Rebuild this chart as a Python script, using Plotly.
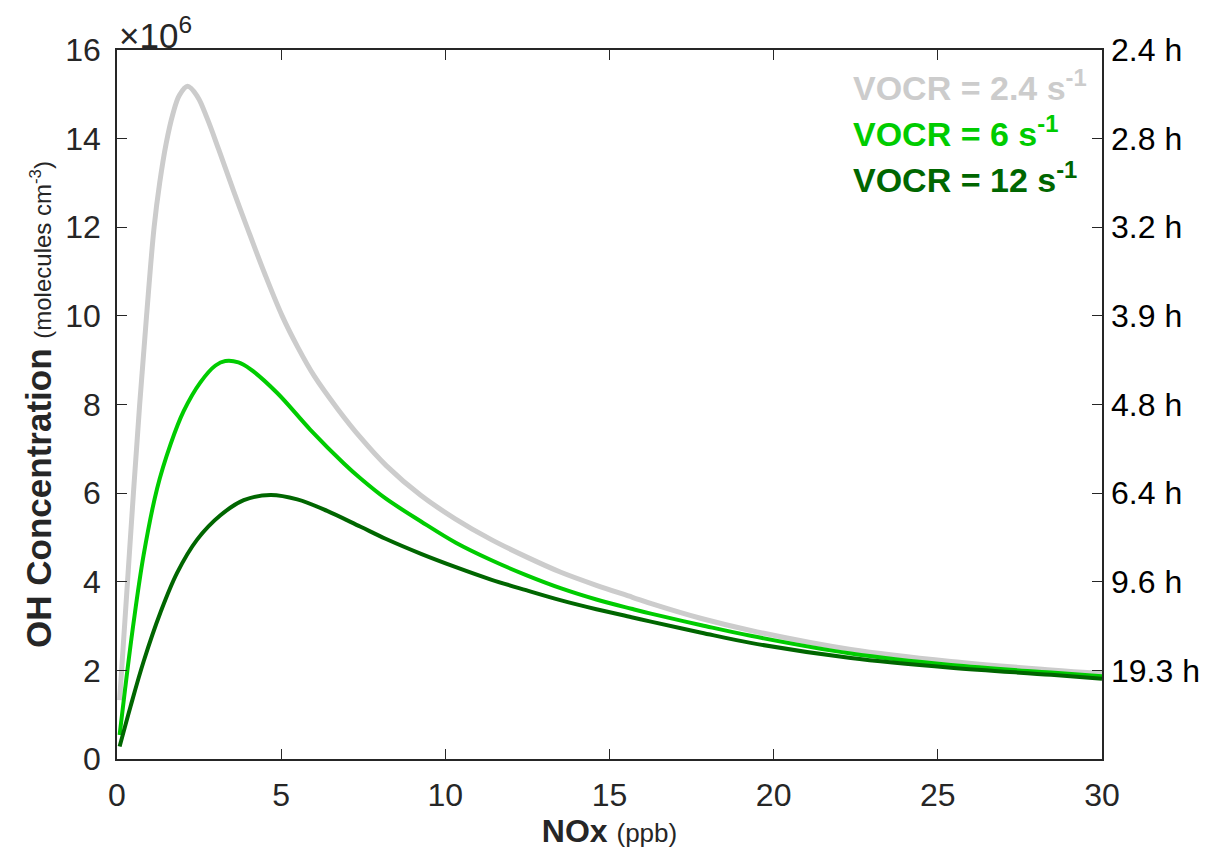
import plotly.graph_objects as go

# NOx (ppb) and OH (x 10^6 molecules cm^-3)
nox_low = [0.08, 0.14, 0.32, 0.5, 0.69, 0.9, 1.13, 1.3, 1.5, 1.7, 1.9, 2.15, 2.45, 2.75,
           3.1, 3.56, 3.96, 4.5, 5.03, 5.5, 6.0, 6.72, 7.42, 8.2, 9.25, 10.3, 11.4, 12.5,
           13.5, 14.6, 15.7, 16.3, 17.8, 19.3, 22.35, 25.4, 28.45, 30]
oh_low = [1.33, 2.0, 4.0, 6.0, 8.0, 10.0, 12.0, 13.0, 13.9, 14.55, 14.98, 15.18, 14.95, 14.45,
          13.75, 12.8, 12.0, 10.95, 10.0, 9.3, 8.65, 7.9, 7.25, 6.62, 5.95, 5.42, 4.95, 4.55,
          4.22, 3.92, 3.65, 3.5, 3.17, 2.9, 2.47, 2.2, 2.01, 1.93]

nox_mid = [0.08, 0.25, 0.5, 0.81, 1.22, 1.63, 2.03, 2.54, 3.0, 3.3, 3.7, 4.06, 4.88, 5.89,
           6.91, 7.42, 8.18, 9.26, 10.32, 11.39, 12.46, 13.53, 14.6, 15.67, 16.26, 17.8,
           19.3, 22.35, 25.4, 28.45, 30]
oh_mid = [0.54, 1.6, 3.05, 4.6, 6.1, 7.1, 7.85, 8.5, 8.88, 8.98, 8.95, 8.8, 8.26, 7.43,
          6.67, 6.33, 5.88, 5.36, 4.88, 4.49, 4.15, 3.85, 3.6, 3.39, 3.28, 3.02,
          2.78, 2.38, 2.12, 1.95, 1.87]

nox_high = [0.08, 0.41, 0.81, 1.32, 1.83, 2.44, 3.15, 3.86, 4.67, 5.49, 6.4, 7.42, 8.18,
            9.26, 10.32, 11.39, 12.46, 13.53, 14.6, 15.67, 16.26, 17.8, 19.3, 22.35, 25.4,
            28.45, 30]
oh_high = [0.28, 1.18, 2.2, 3.3, 4.2, 4.95, 5.5, 5.84, 5.96, 5.86, 5.6, 5.24, 4.97,
           4.63, 4.33, 4.05, 3.81, 3.58, 3.38, 3.2, 3.1, 2.85, 2.62, 2.28, 2.06,
           1.9, 1.81]

vocr_labels = ["VOCR = 2.4 s<sup>-1</sup>", "VOCR = 6 s<sup>-1</sup>", "VOCR = 12 s<sup>-1</sup>"]
colors = ["#cccccc", "#00cc00", "#006600"]
widths = [5, 4, 4]

left_ticks = [0, 2, 4, 6, 8, 10, 12, 14, 16]
right_ticks = [16, 14, 12, 10, 8, 6, 4, 2]
lifetime_labels = ["2.4 h", "2.8 h", "3.2 h", "3.9 h", "4.8 h", "6.4 h", "9.6 h", "19.3 h"]

font = "Liberation Sans, Arial, sans-serif"
axcol = "#262626"

fig = go.Figure()
for xs, ys, c, w in zip([nox_low, nox_mid, nox_high], [oh_low, oh_mid, oh_high], colors, widths):
    fig.add_trace(go.Scatter(x=xs, y=ys, mode="lines", showlegend=False,
                             line=dict(color=c, width=w, shape="spline", smoothing=1)))

# invisible trace so the right (lifetime) axis is drawn
fig.add_trace(go.Scatter(x=[None], y=[None], yaxis="y2", showlegend=False, hoverinfo="skip"))

# page body has an 8px margin, so the figure is a bit smaller than the window
fig.update_layout(
    width=1209, height=849,
    margin=dict(l=109, r=115, t=42, b=98),
    plot_bgcolor="white", paper_bgcolor="white",
    font=dict(family=font, size=32, color=axcol),
    xaxis=dict(range=[0, 30], tickvals=[0, 5, 10, 15, 20, 25, 30],
               showline=True, linecolor=axcol, linewidth=1.5, mirror="ticks",
               ticks="inside", ticklen=10, tickcolor=axcol, showgrid=False, zeroline=False,
               ticklabelstandoff=7, automargin=False,
               title=dict(text="<b>NOx</b> <span style='font-size:26px'>(ppb)</span>",
                          font=dict(size=32), standoff=2)),
    yaxis=dict(range=[0, 16], tickvals=left_ticks,
               showline=True, linecolor=axcol, linewidth=1.5, mirror="ticks",
               ticks="inside", ticklen=10, tickcolor=axcol, showgrid=False, zeroline=False,
               ticklabelstandoff=8, automargin=False,
               title=dict(text="<b>OH Concentration</b> <span style='font-size:24px'>(molecules cm<sup>-3</sup>)</span>",
                          font=dict(size=35), standoff=3)),
    yaxis2=dict(range=[0, 16], overlaying="y", side="right", tickvals=right_ticks,
                ticktext=lifetime_labels, ticks="", showgrid=False, zeroline=False,
                showline=False, tickfont=dict(color="black", size=32), ticklabelstandoff=8,
                automargin=False),
)

fig.add_annotation(xref="paper", yref="paper", x=0, y=1, xanchor="left", yanchor="bottom",
                   text="\u00d710<sup>6</sup>", showarrow=False, yshift=-7,
                   font=dict(size=35, color=axcol))

for i, (lab, c) in enumerate(zip(vocr_labels, colors)):
    fig.add_annotation(x=0.7455, y=0.9436 - i * 0.0648, xref="paper", yref="paper",
                       xanchor="left", yanchor="middle", text="<b>" + lab + "</b>",
                       showarrow=False, yshift=4, font=dict(size=34, color=c))

fig.write_html("out.html")
